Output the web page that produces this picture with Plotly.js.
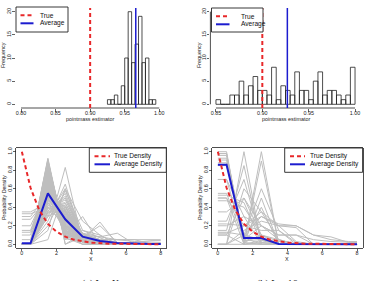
<!DOCTYPE html>
<html>
<head>
<meta charset="utf-8">
<script src="https://cdn.plot.ly/plotly-3.0.1.min.js"></script>
<style>
  html, body { margin: 0; padding: 0; background: #fff; }
  #chart { width: 367px; height: 281px; }
</style>
</head>
<body>
<div id="chart"></div>
<script>
// ---------- histogram data (100 replications of the point-mass estimator) ----------
const binWidth = 0.005;
const leftBinStarts = [0.925, 0.930, 0.935, 0.940, 0.945, 0.950, 0.955, 0.960, 0.965, 0.970, 0.975, 0.980, 0.985, 0.990];
const leftCounts    = [1, 1, 2, 0, 4, 10, 20, 9, 13, 19, 9, 10, 1, 1];
const rightBinStarts = [0.850, 0.855, 0.860, 0.865, 0.870, 0.875, 0.880, 0.885, 0.890, 0.895,
                        0.900, 0.905, 0.910, 0.915, 0.920, 0.925, 0.930, 0.935, 0.940, 0.945,
                        0.950, 0.955, 0.960, 0.965, 0.970, 0.975, 0.980, 0.985, 0.990, 0.995];
const rightCounts    = [1, 0, 0, 2, 2, 5, 2, 4, 6, 3,
                        3, 2, 8, 1, 4, 3, 2, 7, 3, 3,
                        1, 5, 7, 2, 3, 3, 2, 1, 2, 8];
const trueValue = 0.90;
const leftAverage = 0.966;
const rightAverage = 0.927;
const leftXTicks = [0.80, 0.85, 0.90, 0.95, 1.00];
const rightXTicks = [0.85, 0.90, 0.95, 1.00];
const freqTicks = [0, 5, 10, 15, 20];

// ---------- density data ----------
// estimated densities are given on bins centred at 0.5, 1.5, ..., 7.5
const binCentres = [0.5, 1.5, 2.5, 3.5, 4.5, 5.5, 6.5, 7.5];
const supportMin = 0, supportMax = 8;
const trueX = [0, 0.5, 1, 1.5, 2, 2.5, 3, 3.5, 4, 5, 6, 7, 8];
const trueY = [1.0, 0.61, 0.37, 0.22, 0.135, 0.082, 0.05, 0.03, 0.018, 0.007, 0.0025, 0.001, 0.0003];
const leftAvgDensity  = [0.01, 0.55, 0.27, 0.083, 0.035, 0.014, 0.005, 0.003];
const rightAvgDensity = [0.86, 0.068, 0.068, 0.004, 0.002, 0.001, 0.002, 0.001];
const densityXTicks = [0, 2, 4, 6, 8];
const densityYTicks = [0, 0.2, 0.4, 0.6, 0.8, 1.0];

const leftRuns = [
  [0, 0.93, 0.07, 0, 0, 0, 0, 0],
  [0, 0.91, 0.06, 0.03, 0, 0, 0, 0],
  [0, 0.90, 0.10, 0, 0, 0, 0, 0],
  [0, 0.89, 0.08, 0.03, 0, 0, 0, 0],
  [0, 0.87, 0.13, 0, 0, 0, 0, 0],
  [0, 0.86, 0.11, 0.03, 0, 0, 0, 0],
  [0, 0.85, 0.10, 0.05, 0, 0, 0, 0],
  [0, 0.84, 0.14, 0.02, 0, 0, 0, 0],
  [0, 0.82, 0.18, 0, 0, 0, 0, 0],
  [0, 0.81, 0.16, 0.03, 0, 0, 0, 0],
  [0, 0.80, 0.15, 0.05, 0, 0, 0, 0],
  [0, 0.79, 0.17, 0.04, 0, 0, 0, 0],
  [0, 0.78, 0.20, 0.02, 0, 0, 0, 0],
  [0, 0.77, 0.18, 0.05, 0, 0, 0, 0],
  [0, 0.76, 0.14, 0.06, 0.04, 0, 0, 0],
  [0, 0.75, 0.19, 0.06, 0, 0, 0, 0],
  [0, 0.74, 0.22, 0.04, 0, 0, 0, 0],
  [0, 0.73, 0.21, 0.06, 0, 0, 0, 0],
  [0, 0.72, 0.20, 0.05, 0.03, 0, 0, 0],
  [0, 0.71, 0.23, 0.06, 0, 0, 0, 0],
  [0, 0.70, 0.25, 0.05, 0, 0, 0, 0],
  [0, 0.69, 0.24, 0.07, 0, 0, 0, 0],
  [0, 0.68, 0.22, 0.07, 0.03, 0, 0, 0],
  [0, 0.67, 0.26, 0.07, 0, 0, 0, 0],
  [0, 0.66, 0.28, 0.06, 0, 0, 0, 0],
  [0, 0.65, 0.25, 0.07, 0.03, 0, 0, 0],
  [0, 0.64, 0.26, 0.06, 0.04, 0, 0, 0],
  [0, 0.63, 0.29, 0.08, 0, 0, 0, 0],
  [0, 0.62, 0.30, 0.08, 0, 0, 0, 0],
  [0, 0.61, 0.28, 0.08, 0.03, 0, 0, 0],
  [0, 0.60, 0.27, 0.09, 0.04, 0, 0, 0],
  [0, 0.59, 0.31, 0.10, 0, 0, 0, 0],
  [0, 0.58, 0.32, 0.07, 0.03, 0, 0, 0],
  [0, 0.57, 0.29, 0.10, 0.04, 0, 0, 0],
  [0, 0.56, 0.30, 0.10, 0.04, 0, 0, 0],
  [0, 0.55, 0.34, 0.08, 0.03, 0, 0, 0],
  [0, 0.54, 0.35, 0.08, 0.03, 0, 0, 0],
  [0, 0.53, 0.31, 0.11, 0.05, 0, 0, 0],
  [0, 0.52, 0.33, 0.10, 0.05, 0, 0, 0],
  [0, 0.51, 0.37, 0.09, 0.03, 0, 0, 0],
  [0, 0.50, 0.38, 0.09, 0.03, 0, 0, 0],
  [0, 0.49, 0.35, 0.12, 0.04, 0, 0, 0],
  [0, 0.48, 0.36, 0.11, 0.05, 0, 0, 0],
  [0, 0.47, 0.41, 0.08, 0.04, 0, 0, 0],
  [0, 0.46, 0.40, 0.10, 0.04, 0, 0, 0],
  [0, 0.44, 0.42, 0.10, 0.04, 0, 0, 0],
  [0, 0.42, 0.45, 0.09, 0.04, 0, 0, 0],
  [0, 0.40, 0.44, 0.12, 0.04, 0, 0, 0],
  [0, 0.38, 0.48, 0.10, 0.04, 0, 0, 0],
  [0, 0.36, 0.50, 0.10, 0.04, 0, 0, 0],
  [0, 0.34, 0.52, 0.10, 0.04, 0, 0, 0],
  [0, 0.32, 0.55, 0.09, 0.04, 0, 0, 0],
  [0, 0.30, 0.60, 0.07, 0.03, 0, 0, 0],
  [0, 0.15, 0.83, 0.02, 0, 0, 0, 0],
  [0, 0.25, 0.65, 0.07, 0.03, 0, 0, 0],
  [0, 0.20, 0.58, 0.15, 0.07, 0, 0, 0],
  [0.35, 0.45, 0.15, 0.05, 0, 0, 0, 0],
  [0.30, 0.55, 0.10, 0.05, 0, 0, 0, 0],
  [0.33, 0.40, 0.20, 0.07, 0, 0, 0, 0],
  [0.27, 0.50, 0.18, 0.05, 0, 0, 0, 0],
  [0.20, 0.60, 0.15, 0.05, 0, 0, 0, 0],
  [0.15, 0.65, 0.15, 0.05, 0, 0, 0, 0],
  [0.13, 0.70, 0.12, 0.05, 0, 0, 0, 0],
  [0.10, 0.72, 0.13, 0.05, 0, 0, 0, 0],
  [0.05, 0.78, 0.12, 0.05, 0, 0, 0, 0],
  [0, 0.92, 0, 0.08, 0, 0, 0, 0],
  [0, 0.88, 0, 0.12, 0, 0, 0, 0],
  [0, 0.60, 0.10, 0.30, 0, 0, 0, 0],
  [0, 0.45, 0.25, 0.06, 0.24, 0, 0, 0],
  [0, 0.50, 0.20, 0.08, 0.20, 0.02, 0, 0],
  [0, 0.40, 0.30, 0.12, 0.08, 0.05, 0.05, 0],
  [0, 0.35, 0.35, 0.10, 0.08, 0.12, 0, 0],
  [0, 0.30, 0.40, 0.10, 0.05, 0.05, 0.05, 0.05],
  [0, 0.55, 0.25, 0.05, 0.05, 0.05, 0.03, 0.02],
  [0, 0.62, 0.20, 0.06, 0.04, 0.02, 0.02, 0.04],
  [0, 0.05, 0.60, 0.25, 0.10, 0, 0, 0],
  [0, 0.70, 0.05, 0.15, 0.10, 0, 0, 0]
];

const rightRuns = [
  [1, 0, 0, 0, 0, 0, 0, 0],
  [0.98, 0.02, 0, 0, 0, 0, 0, 0],
  [0.96, 0, 0.04, 0, 0, 0, 0, 0],
  [0.93, 0.07, 0, 0, 0, 0, 0, 0],
  [0.91, 0.04, 0.05, 0, 0, 0, 0, 0],
  [0.85, 0.10, 0.05, 0, 0, 0, 0, 0],
  [0.70, 0.30, 0, 0, 0, 0, 0, 0],
  [0.70, 0.05, 0.20, 0.05, 0, 0, 0, 0],
  [0.55, 0.05, 0.40, 0, 0, 0, 0, 0],
  [0.53, 0.45, 0.02, 0, 0, 0, 0, 0],
  [0.50, 0, 0.50, 0, 0, 0, 0, 0],
  [0.50, 0.20, 0.15, 0.15, 0, 0, 0, 0],
  [0.47, 0.40, 0.10, 0.03, 0, 0, 0, 0],
  [0.25, 0.70, 0.05, 0, 0, 0, 0, 0],
  [0.22, 0.20, 0.35, 0.20, 0.03, 0, 0, 0],
  [0.20, 0.30, 0.20, 0.10, 0.10, 0.05, 0.03, 0.02],
  [0.15, 0.85, 0, 0, 0, 0, 0, 0],
  [0.13, 0.10, 0.60, 0.15, 0.02, 0, 0, 0],
  [0.12, 0.20, 0.30, 0.20, 0.18, 0, 0, 0],
  [0.10, 0, 0.90, 0, 0, 0, 0, 0],
  [0.10, 0.50, 0.20, 0.10, 0.10, 0, 0, 0],
  [0, 1, 0, 0, 0, 0, 0, 0],
  [0, 0, 1, 0, 0, 0, 0, 0],
  [0, 0.15, 0.25, 0.20, 0.20, 0.10, 0.08, 0.02],
  [0, 0.60, 0.35, 0.05, 0, 0, 0, 0],
  [0.98, 0, 0.02, 0, 0, 0, 0, 0],
  [0.88, 0.02, 0.10, 0, 0, 0, 0, 0],
  [0.35, 0.50, 0.10, 0.05, 0, 0, 0, 0],
  [0, 0.10, 0.30, 0.22, 0.20, 0.10, 0.05, 0.03]
];

const captions = ['(a) L = K', '(b) L = 16'];

// ---------- helpers ----------
const W = 367, H = 281;
const fx = p => p / W;
const fy = p => 1 - p / H;
const FONT = 'Liberation Sans, Arial, Helvetica, sans-serif';
const INK = '#222';
const RED = '#e8282a';
const BLUE = '#1c1ccf';
const GRAY = 'rgb(190,190,190)';

// frequency polygon held flat out to the ends of the support
const polyX = [supportMin, ...binCentres, supportMax];
const polyY = v => [v[0], ...v, v[v.length - 1]];

const traces = [];

// histograms
traces.push({
  type: 'bar', x: leftBinStarts, y: leftCounts, width: binWidth, offset: 0,
  marker: { color: 'rgba(0,0,0,0)', line: { color: INK, width: 0.8 } },
  xaxis: 'x', yaxis: 'y', hoverinfo: 'skip'
});
traces.push({
  type: 'bar', x: rightBinStarts, y: rightCounts, width: binWidth, offset: 0,
  marker: { color: 'rgba(0,0,0,0)', line: { color: INK, width: 0.8 } },
  xaxis: 'x2', yaxis: 'y2', hoverinfo: 'skip'
});

// density panels
[[leftRuns, leftAvgDensity, 'x3', 'y3'], [rightRuns, rightAvgDensity, 'x4', 'y4']].forEach(([runs, avg, xa, ya]) => {
  runs.forEach(r => traces.push({
    type: 'scatter', mode: 'lines', x: polyX, y: polyY(r),
    line: { color: GRAY, width: 1 }, xaxis: xa, yaxis: ya, hoverinfo: 'skip'
  }));
  traces.push({
    type: 'scatter', mode: 'lines', x: polyX, y: polyY(avg),
    line: { color: BLUE, width: 2 }, xaxis: xa, yaxis: ya, hoverinfo: 'skip'
  });
  traces.push({
    type: 'scatter', mode: 'lines', x: trueX, y: trueY,
    line: { color: RED, width: 2, dash: '4px,3px' }, xaxis: xa, yaxis: ya, hoverinfo: 'skip'
  });
});

// ---------- axes ----------
const tickFont = { family: FONT, size: 5.4, color: INK };
function axis(domain, range, tickvals, ticktext, extra) {
  return Object.assign({
    domain, range, tickvals, ticktext, ticks: 'outside', ticklen: 2.5, tickwidth: 0.7,
    tickcolor: INK, tickfont: tickFont, showgrid: false, zeroline: false, showline: false,
    fixedrange: true
  }, extra || {});
}
const fmt2 = v => v.toFixed(2);
const fmt1 = v => v.toFixed(1);
const boxed = { showline: true, mirror: true, linecolor: INK, linewidth: 0.8 };
const xLab = { ticklabelstandoff: -3 };
const yLab = { tickangle: -90, ticklabelstandoff: -1 };

const panels = {
  TL: { l: 15.5, r: 164.8, t: 8, b: 108 },
  TR: { l: 210.4, r: 360.6, t: 8, b: 108 },
  BL: { l: 16.3, r: 166.3, t: 148, b: 248 },
  BR: { l: 212.3, r: 362.6, t: 148, b: 248 }
};
const xd = p => [fx(p.l), fx(p.r)];
const yd = p => [fy(p.b), fy(p.t)];

const layout = {
  width: W, height: H,
  margin: { l: 0, r: 0, t: 0, b: 0 },
  paper_bgcolor: '#fff', plot_bgcolor: 'rgba(0,0,0,0)',
  showlegend: false,
  xaxis:  axis(xd(panels.TL), [0.792, 1.008], leftXTicks, leftXTicks.map(fmt2), Object.assign({ anchor: 'y' }, xLab)),
  yaxis:  axis(yd(panels.TL), [-0.8, 20.8], freqTicks, freqTicks.map(String), Object.assign({ anchor: 'x' }, yLab)),
  xaxis2: axis(xd(panels.TR), [0.844, 1.006], rightXTicks, rightXTicks.map(fmt2), Object.assign({ anchor: 'y2' }, xLab)),
  yaxis2: axis(yd(panels.TR), [-0.8, 20.8], freqTicks, freqTicks.map(String), Object.assign({ anchor: 'x2' }, yLab)),
  xaxis3: axis(xd(panels.BL), [-0.32, 8.32], densityXTicks, densityXTicks.map(String), Object.assign({ anchor: 'y3' }, boxed, xLab)),
  yaxis3: axis(yd(panels.BL), [-0.04, 1.04], densityYTicks, densityYTicks.map(fmt1), Object.assign({ anchor: 'x3' }, boxed, yLab)),
  xaxis4: axis(xd(panels.BR), [-0.32, 8.32], densityXTicks, densityXTicks.map(String), Object.assign({ anchor: 'y4' }, boxed, xLab)),
  yaxis4: axis(yd(panels.BR), [-0.04, 1.04], densityYTicks, densityYTicks.map(fmt1), Object.assign({ anchor: 'x4' }, boxed, yLab)),
  shapes: [], annotations: []
};

// axis lines of the histograms run from the first to the last tick
layout.shapes.push({ type: 'line', xref: 'x', yref: 'y domain', x0: leftXTicks[0], x1: leftXTicks[leftXTicks.length - 1], y0: 0, y1: 0, line: { color: INK, width: 0.8 } });
layout.shapes.push({ type: 'line', xref: 'x2', yref: 'y2 domain', x0: rightXTicks[0], x1: rightXTicks[rightXTicks.length - 1], y0: 0, y1: 0, line: { color: INK, width: 0.8 } });
layout.shapes.push({ type: 'line', xref: 'x2 domain', yref: 'y2', x0: 0, x1: 0, y0: freqTicks[0], y1: freqTicks[freqTicks.length - 1], line: { color: INK, width: 0.8 } });

// true value and average of the estimator
[['x', 'y', leftAverage], ['x2', 'y2', rightAverage]].forEach(([xa, ya, avg]) => {
  layout.shapes.push({ type: 'line', layer: 'above', xref: xa, yref: ya + ' domain', x0: avg, x1: avg, y0: 0, y1: 1, line: { color: BLUE, width: 1.5 } });
  layout.shapes.push({ type: 'line', layer: 'above', xref: xa, yref: ya + ' domain', x0: trueValue, x1: trueValue, y0: 0, y1: 1, line: { color: RED, width: 2, dash: '4px,3px' } });
});

// axis titles
const titleFont = { family: FONT, size: 5.4, color: INK };
function note(text, x, y, opts) {
  layout.annotations.push(Object.assign({
    text, xref: 'paper', yref: 'paper', x: fx(x), y: fy(y), showarrow: false,
    xanchor: 'center', yanchor: 'middle', font: titleFont, borderpad: 0
  }, opts || {}));
}
note('pointmass estimator', 90, 118.5);
note('pointmass estimator', 286, 118.5);
note('Frequency', 3, 55, { textangle: -90 });
note('Frequency', 199, 55, { textangle: -90 });
note('X', 91, 258.5);
note('X', 287, 258.5);
note('Probability Density', 4, 198, { textangle: -90 });
note('Probability Density', 200, 198, { textangle: -90 });

// legends
const legFont = { family: FONT, size: 6.6, color: '#111' };
function legend(box, labels, symL, symR, textX) {
  layout.shapes.push({ type: 'rect', xref: 'paper', yref: 'paper', x0: fx(box.l), x1: fx(box.r), y0: fy(box.b), y1: fy(box.t), line: { color: INK, width: 0.9 }, fillcolor: '#fff', layer: 'above' });
  const rows = [box.t + 8.2, box.t + 16.3];
  const styles = [{ color: RED, width: 2, dash: '4px,3px' }, { color: BLUE, width: 2 }];
  labels.forEach((lab, i) => {
    layout.shapes.push({ type: 'line', xref: 'paper', yref: 'paper', x0: fx(symL), x1: fx(symR), y0: fy(rows[i]), y1: fy(rows[i]), line: styles[i], layer: 'above' });
    note(lab, textX, rows[i], { xanchor: 'left', font: legFont });
  });
}
legend({ l: 16, r: 68, t: 7, b: 32 }, ['True', 'Average'], 20.5, 33.5, 39);
legend({ l: 211.5, r: 263, t: 8, b: 32 }, ['True', 'Average'], 216, 229.5, 240);
legend({ l: 89.3, r: 166.3, t: 148, b: 172.3 }, ['True Density', 'Average Density'], 94.5, 110, 112.5);
legend({ l: 284.7, r: 362.6, t: 148, b: 172.3 }, ['True Density', 'Average Density'], 290, 305, 308.5);

// sub-figure captions
const capFont = { family: 'Liberation Serif, Times New Roman, serif', size: 10, color: '#111' };
note(captions[0], 101, 276.5, { yanchor: 'top', font: capFont });
note(captions[1], 277, 276.5, { yanchor: 'top', font: capFont });

Plotly.newPlot('chart', traces, layout, { staticPlot: true, displayModeBar: false });
</script>
</body>
</html>
